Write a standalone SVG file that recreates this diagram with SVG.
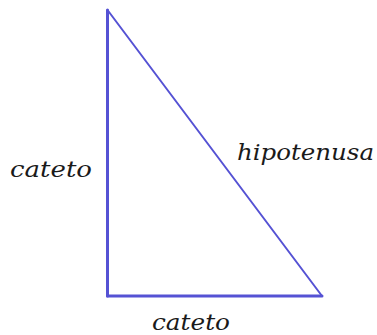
<svg xmlns="http://www.w3.org/2000/svg" width="377" height="335" viewBox="0 0 377 335">
<style>
.side{stroke:#5552d4;fill:none;stroke-linecap:round}
.lbl{font-family:"DejaVu Serif","Liberation Serif",serif;font-style:italic;font-size:23px;fill:#1a1a1a}
</style>
<rect width="377" height="335" fill="#ffffff"/>
<g id="triangle">
<line class="side" x1="107.5" y1="10" x2="107.5" y2="296" stroke-width="3"/>
<line class="side" x1="107.5" y1="296" x2="322" y2="296" stroke-width="3"/>
<line class="side" x1="107.5" y1="10" x2="322" y2="296" stroke-width="2"/>
</g>
<text class="lbl" x="10" y="177" textLength="82" lengthAdjust="spacingAndGlyphs">cateto</text>
<text class="lbl" x="237" y="160" textLength="137" lengthAdjust="spacingAndGlyphs">hipotenusa</text>
<text class="lbl" x="152" y="330" textLength="78" lengthAdjust="spacingAndGlyphs">cateto</text>
</svg>
